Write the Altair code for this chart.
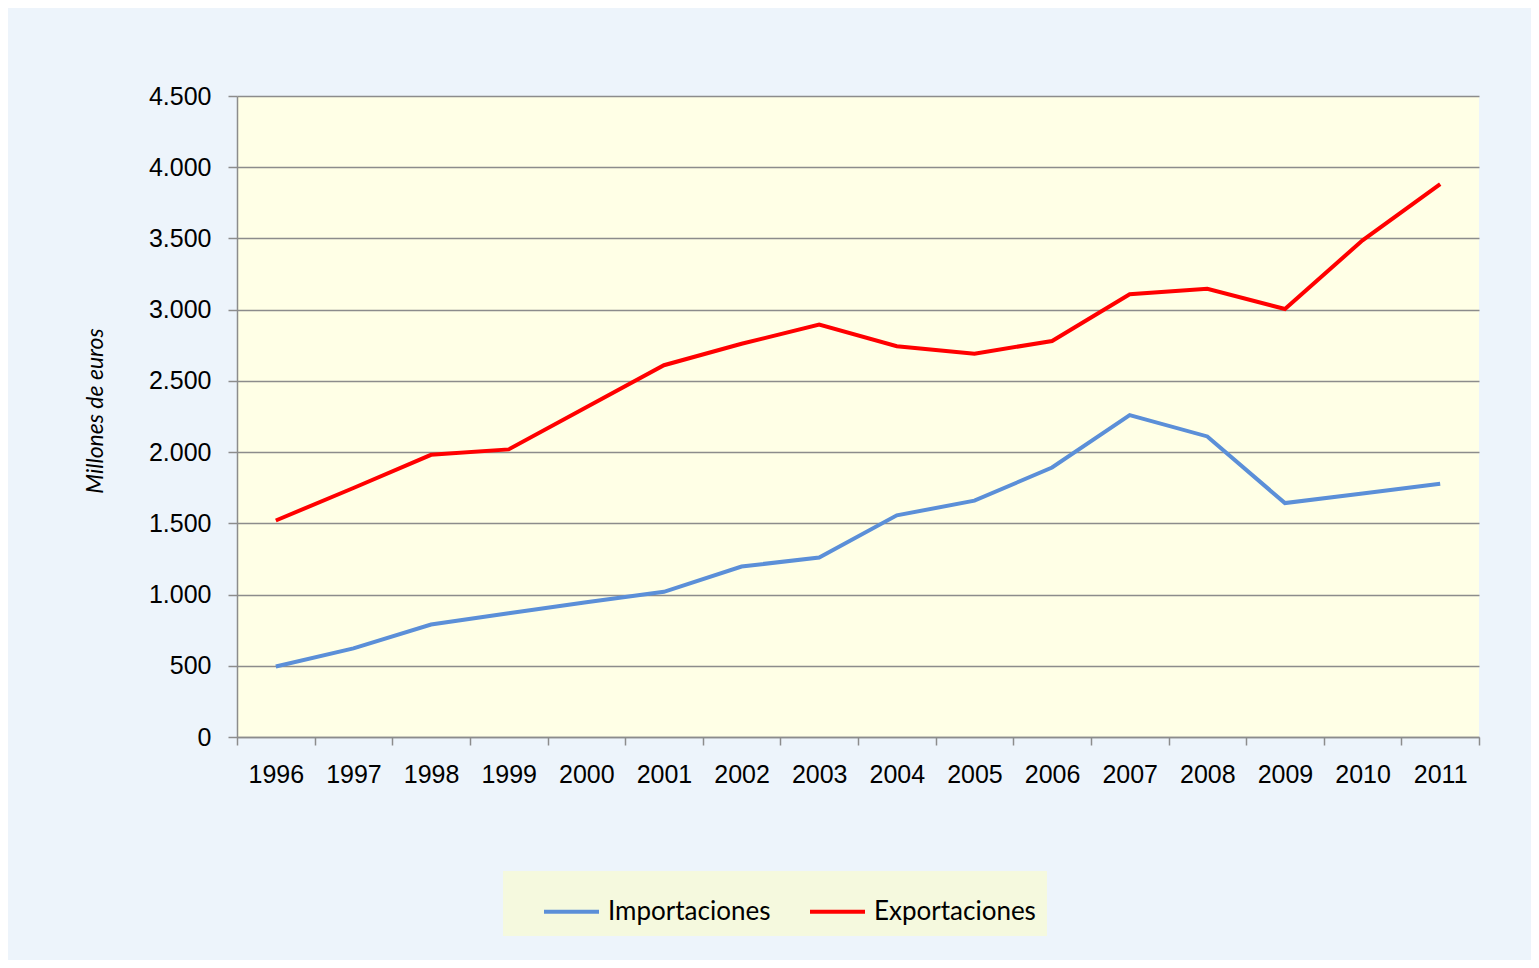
import altair as alt
import pandas as pd

years = list(range(1996, 2012))
importaciones = [495, 622, 790, 869, 946, 1019, 1197, 1260, 1556, 1659, 1892, 2260, 2110, 1642, 1710, 1778]
exportaciones = [1520, 1748, 1981, 2019, 2315, 2610, 2761, 2895, 2743, 2691, 2780, 3108, 3147, 3005, 3487, 3881]
series = ["Importaciones", "Exportaciones"]
colors = ["#5B8FD8", "#FF0000"]
y_ticks = [0, 500, 1000, 1500, 2000, 2500, 3000, 3500, 4000, 4500]
x_edges = [y - 0.5 for y in years] + [years[-1] + 0.5]

rows = []
for yr, imp, exp in zip(years, importaciones, exportaciones):
    rows.append({"year": yr, "serie": series[0], "valor": imp})
    rows.append({"year": yr, "serie": series[1], "valor": exp})
df = pd.DataFrame(rows)

W = 1242
H = 641
band = W / len(years)

chart = alt.Chart(df).mark_line(strokeWidth=4).encode(
    x=alt.X(
        "year:Q",
        scale=alt.Scale(domain=[x_edges[0], x_edges[-1]], nice=False, zero=False),
        axis=alt.Axis(
            values=x_edges,
            title=None,
            grid=False,
            labelExpr=f"datum.value < {years[-1]} ? format(datum.value + 0.5, 'd') : ''",
            labelOffset=band / 2,
            labelFlush=False,
            labelOverlap=False,
            labelBound=False,
            labelFont="Liberation Sans",
            labelFontSize=25,
            labelColor="#000000",
            labelPadding=17,
            tickSize=8,
            tickColor="#8C8C8C",
            tickWidth=1.5,
            domainColor="#8C8C8C",
            domainWidth=1.5,
        ),
    ),
    y=alt.Y(
        "valor:Q",
        scale=alt.Scale(domain=[0, 4500], nice=False),
        axis=alt.Axis(
            values=y_ticks,
            title="Millones de euros",
            titleFont="Lato",
            titleFontStyle="italic",
            titleFontWeight="normal",
            titleFontSize=23,
            titleColor="#000000",
            titleX=-142,
            titleY=H / 2 - 6,
            titleAngle=270,
            titleBaseline="middle",
            titleAlign="center",
            labelExpr="replace(format(datum.value, ','), ',', '.')",
            labelFont="Liberation Sans",
            labelFontSize=25,
            labelColor="#000000",
            labelPadding=17,
            tickSize=9,
            tickColor="#8C8C8C",
            tickWidth=1.5,
            domainColor="#8C8C8C",
            domainWidth=1.5,
            grid=True,
            gridColor="#8C8C8C",
            gridWidth=1.5,
        ),
    ),
    color=alt.Color(
        "serie:N",
        scale=alt.Scale(domain=series, range=colors),
        sort=series,
        legend=alt.Legend(
            title=None,
            orient="none",
            legendX=266,
            legendY=775,
            direction="horizontal",
            symbolType="stroke",
            symbolSize=3025,
            symbolStrokeWidth=4,
            symbolOffset=28,
            labelFont="Lato",
            labelFontSize=26,
            labelColor="#000000",
            labelOffset=7,
            labelLimit=400,
            columnPadding=9,
            padding=11,
            fillColor="#F5F9DE",
        ),
    ),
).properties(
    width=W,
    height=H,
    background="#EDF4FB",
    padding={"left": 229, "top": 88, "right": 52, "bottom": 223},
    autosize=alt.AutoSizeParams(type="none"),
).configure_view(
    fill="#FFFFE6",
    strokeWidth=0,
)

chart.save("out.html", embed_options={"renderer": "svg", "actions": False})
